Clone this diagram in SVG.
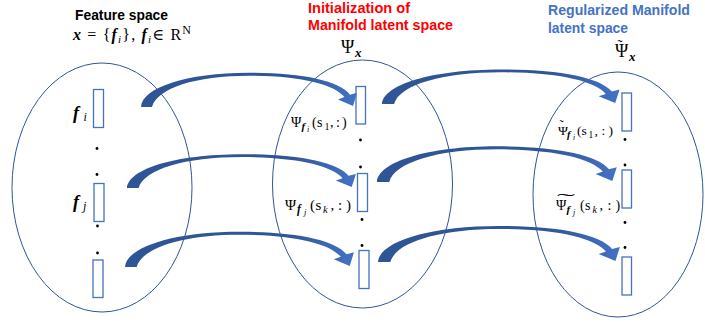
<svg xmlns="http://www.w3.org/2000/svg" xmlns:xlink="http://www.w3.org/1999/xlink" width="705" height="322" viewBox="0 0 705 322">
<style>
.ell{fill:none;stroke:#2f5597;stroke-width:1}
.vec{fill:#fff;stroke:#4472c4;stroke-width:1.3}
.dot{fill:#000}
.title{font-family:"Liberation Sans",Arial,sans-serif;font-weight:bold;font-size:14px}
.m{font-family:"Liberation Serif","DejaVu Serif",serif;fill:#000}
.bi{font-weight:bold;font-style:italic}
.it{font-style:italic}
</style>
<defs>
<linearGradient id="ag" x1="0" y1="0" x2="1" y2="0">
<stop offset="0" stop-color="#2f5597"/>
<stop offset="0.7" stop-color="#2f5597"/>
<stop offset="1" stop-color="#4472c4"/>
</linearGradient>
<path id="carrow" fill="url(#ag)" d="M0,0 C1,-20 45,-36 108,-36 C160,-36 198,-28 209,-13 L216,-15 L212,-1 L197,-8 L203.5,-10.5 C193,-24 160,-33 108,-33 C55,-33 16,-20 11,0 Z"/>
</defs>
<rect width="705" height="322" fill="#fff"/>

<!-- Titles -->
<g id="title-feature">
<text class="title" x="75" y="19.5" fill="#000" textLength="93" lengthAdjust="spacingAndGlyphs">Feature space</text>
<text class="m" font-size="16" x="73" y="40" textLength="118" lengthAdjust="spacing"><tspan class="bi">x</tspan> =  {<tspan class="bi">f</tspan><tspan dy="3" font-size="11" class="it">i</tspan><tspan dy="-3">}, </tspan><tspan class="bi">f</tspan><tspan dy="3" font-size="11" class="it">i</tspan><tspan dy="-3">∈ R</tspan><tspan dy="-6" font-size="12">N</tspan></text>
</g>
<g id="title-init">
<text class="title" x="308" y="13" fill="#ff0000" textLength="102" lengthAdjust="spacingAndGlyphs">Initialization of</text>
<text class="title" x="308" y="29.5" fill="#ff0000" textLength="145" lengthAdjust="spacingAndGlyphs">Manifold latent space</text>
<text class="m" font-size="18" y="53"><tspan x="341">Ψ</tspan><tspan x="355" dy="4" font-size="13" class="bi">x</tspan></text>
</g>
<g id="title-reg">
<text class="title" x="548" y="15" fill="#4472c4" textLength="142" lengthAdjust="spacingAndGlyphs">Regularized Manifold</text>
<text class="title" x="548" y="33" fill="#4472c4" textLength="80" lengthAdjust="spacingAndGlyphs">latent space</text>
<text class="m" font-size="18"><tspan x="615" y="57">Ψ</tspan><tspan x="629" y="61" font-size="13" class="bi">x</tspan><tspan x="617.5" y="50" font-size="15">˜</tspan></text>
</g>

<!-- Feature space node -->
<g id="feature-space">
<ellipse class="ell" cx="102" cy="187.5" rx="90" ry="124.5"/>
<rect class="vec" x="93.5" y="89.5" width="10" height="38"/>
<rect class="vec" x="94" y="183.5" width="10" height="38"/>
<rect class="vec" x="93" y="260" width="10" height="37.5"/>
<circle class="dot" cx="97" cy="148.5" r="1.4"/>
<circle class="dot" cx="97" cy="174.5" r="1.4"/>
<circle class="dot" cx="97.5" cy="226" r="1.4"/>
<circle class="dot" cx="97.5" cy="253" r="1.4"/>
<text class="m" font-size="18" y="119"><tspan x="73" class="bi">f</tspan><tspan x="83.5" y="121" font-size="12" class="it">i</tspan></text>
<text class="m" font-size="18" y="208"><tspan x="73" class="bi">f</tspan><tspan x="83" y="210" font-size="12" class="it">j</tspan></text>
</g>

<!-- Initial manifold latent space node -->
<g id="init-latent">
<ellipse class="ell" cx="362.5" cy="184" rx="90" ry="124"/>
<rect class="vec" x="356" y="86.5" width="9.5" height="37.5"/>
<rect class="vec" x="357.5" y="173.5" width="10" height="38"/>
<rect class="vec" x="359" y="250.5" width="10" height="38"/>
<circle class="dot" cx="360.5" cy="140" r="1.4"/>
<circle class="dot" cx="360.5" cy="167" r="1.4"/>
<circle class="dot" cx="362" cy="219.5" r="1.4"/>
<circle class="dot" cx="362" cy="245.5" r="1.4"/>
<text class="m" font-size="14" y="127"><tspan x="291">Ψ</tspan><tspan x="301.5" y="130" font-size="11" class="bi">f</tspan><tspan x="307" y="132" font-size="8" class="it">i</tspan><tspan x="312" y="127">(</tspan><tspan x="317">s</tspan><tspan x="324.5" y="130" font-size="10">1</tspan><tspan x="330" y="127">,</tspan><tspan x="336">:</tspan><tspan x="342">)</tspan></text>
<text class="m" font-size="15" y="210"><tspan x="285">Ψ</tspan><tspan x="297" y="213" font-size="11.5" class="bi">f</tspan><tspan x="304" y="215" font-size="8.5" class="it">j</tspan><tspan x="310" y="210">(</tspan><tspan x="315.5">s</tspan><tspan x="323" y="213" font-size="10.5" class="it">k</tspan><tspan x="330.5" y="210">,</tspan><tspan x="338">:</tspan><tspan x="346">)</tspan></text>
</g>

<!-- Regularized manifold latent space node -->
<g id="reg-latent">
<ellipse class="ell" cx="618" cy="194.5" rx="85" ry="122.5"/>
<rect class="vec" x="622" y="93" width="9.5" height="38"/>
<rect class="vec" x="622" y="170" width="9.5" height="38"/>
<rect class="vec" x="622" y="257" width="9.5" height="38"/>
<circle class="dot" cx="625" cy="139.5" r="1.4"/>
<circle class="dot" cx="625" cy="165" r="1.4"/>
<circle class="dot" cx="625" cy="222.5" r="1.4"/>
<circle class="dot" cx="625" cy="247.5" r="1.4"/>
<text class="m" font-size="13.5" y="135"><tspan x="558">Ψ</tspan><tspan x="567" y="138" font-size="10.5" class="bi">f</tspan><tspan x="573" y="140" font-size="7.5" class="it">i</tspan><tspan x="577" y="135">(</tspan><tspan x="581.5">s</tspan><tspan x="588.5" y="138" font-size="9.5">1</tspan><tspan x="594.5" y="135">,</tspan><tspan x="601.5">:</tspan><tspan x="608.5">)</tspan><tspan x="559.5" y="129" font-size="12">˜</tspan></text>
<text class="m" font-size="14"><tspan x="556" y="210">Ψ</tspan><tspan x="566.5" y="213" font-size="11" class="bi">f</tspan><tspan x="573" y="215" font-size="8" class="it">j</tspan><tspan x="580" y="210">(</tspan><tspan x="585">s</tspan><tspan x="592.5" y="213" font-size="10" class="it">k</tspan><tspan x="599.5" y="210">,</tspan><tspan x="607.5">:</tspan><tspan x="615.5">)</tspan></text>
<text class="m" font-size="14" x="557" y="204" textLength="18" lengthAdjust="spacingAndGlyphs">˜</text>
</g>

<!-- Connectors -->
<g id="connectors">
<use xlink:href="#carrow" transform="translate(141,107) scale(1.0,0.95)"/>
<use xlink:href="#carrow" transform="translate(127,188) scale(1.06,0.94)"/>
<use xlink:href="#carrow" transform="translate(125,267) scale(1.06,0.98)"/>
<use xlink:href="#carrow" transform="translate(382,104) scale(1.10,0.96)"/>
<use xlink:href="#carrow" transform="translate(377,182) scale(1.11,0.99)"/>
<use xlink:href="#carrow" transform="translate(378,262) scale(1.12,1.0)"/>
</g>
</svg>
